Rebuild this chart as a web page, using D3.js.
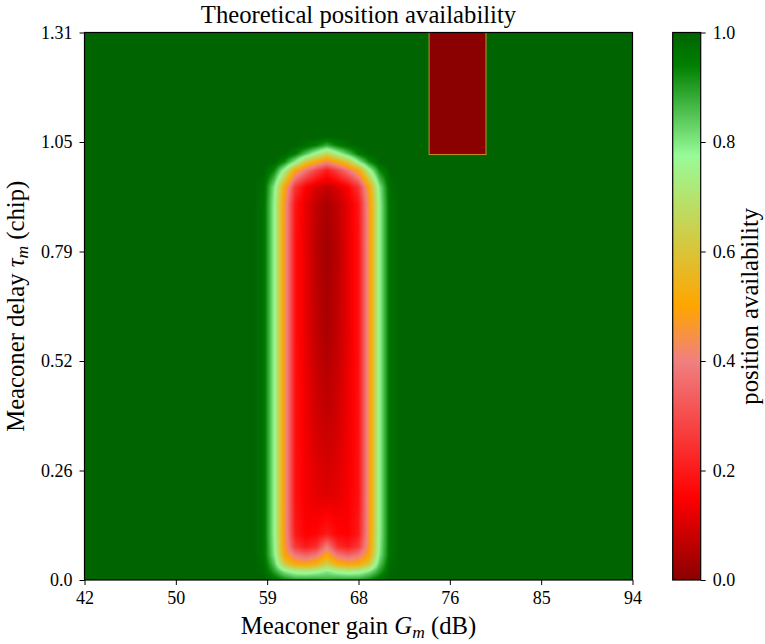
<!DOCTYPE html>
<html><head><meta charset="utf-8">
<script src="https://cdn.jsdelivr.net/npm/d3@7"></script>
<style>
body{margin:0;background:#fff}
svg{display:block}
text{font-family:"Liberation Serif","Times New Roman",serif;fill:#000}
</style>
</head><body>
<svg id="chart" width="765" height="644"></svg>
<script>
// ---------------- data ----------------
const gainRange = [42, 94];          // dB
const delayRange = [0, 1.31];        // chip
const backgroundValue = 1;

// grid of the low-availability region
const gains = [58, 59, 60, 61, 62, 63, 64, 65, 66, 67, 68, 69, 70, 71, 72];
const delays = [0, 0.02, 0.04, 0.06, 0.08, 0.11, 0.2, 0.4, 0.6, 0.8, 0.9, 0.94, 0.98, 1.0, 1.02, 1.04, 1.06];
const availability = [
  [1, 1,    0.97, 0.93, 0.9,  0.9,  0.9,  0.88, 0.9,  0.9,  0.9,  0.93, 0.97, 1,    1],
  [1, 0.99, 0.9,  0.8,  0.75, 0.74, 0.76, 0.8,  0.76, 0.74, 0.75, 0.8,  0.9,  0.99, 1],
  [1, 0.98, 0.84, 0.6,  0.5,  0.48, 0.52, 0.62, 0.52, 0.48, 0.5,  0.6,  0.84, 0.98, 1],
  [1, 0.97, 0.8,  0.5,  0.38, 0.34, 0.38, 0.5,  0.38, 0.34, 0.38, 0.5,  0.8,  0.97, 1],
  [1, 0.97, 0.79, 0.47, 0.26, 0.2,  0.24, 0.4,  0.24, 0.2,  0.26, 0.47, 0.79, 0.97, 1],
  [1, 0.97, 0.78, 0.46, 0.2,  0.15, 0.16, 0.2,  0.16, 0.15, 0.2,  0.46, 0.78, 0.97, 1],
  [1, 0.97, 0.78, 0.46, 0.18, 0.14, 0.12, 0.11, 0.12, 0.14, 0.18, 0.46, 0.78, 0.97, 1],
  [1, 0.97, 0.78, 0.46, 0.18, 0.13, 0.09, 0.07, 0.09, 0.13, 0.18, 0.46, 0.78, 0.97, 1],
  [1, 0.97, 0.78, 0.46, 0.18, 0.12, 0.07, 0.04, 0.07, 0.12, 0.18, 0.46, 0.78, 0.97, 1],
  [1, 0.97, 0.78, 0.46, 0.18, 0.12, 0.06, 0.03, 0.06, 0.12, 0.18, 0.46, 0.78, 0.97, 1],
  [1, 0.97, 0.78, 0.46, 0.19, 0.12, 0.07, 0.04, 0.07, 0.12, 0.19, 0.46, 0.78, 0.97, 1],
  [1, 0.98, 0.8,  0.5,  0.25, 0.15, 0.1,  0.08, 0.1,  0.15, 0.25, 0.5,  0.8,  0.98, 1],
  [1, 1,    0.93, 0.75, 0.5,  0.38, 0.28, 0.2,  0.28, 0.38, 0.5,  0.75, 0.93, 1,    1],
  [1, 1,    1,    0.92, 0.78, 0.6,  0.5,  0.42, 0.5,  0.6,  0.78, 0.92, 1,    1,    1],
  [1, 1,    1,    1,    0.95, 0.85, 0.75, 0.65, 0.75, 0.85, 0.95, 1,    1,    1,    1],
  [1, 1,    1,    1,    1,    0.98, 0.94, 0.88, 0.94, 0.98, 1,    1,    1,    1,    1],
  [1, 1,    1,    1,    1,    1,    1,    1,    1,    1,    1,    1,    1,    1,    1]
];

// fully unavailable block (top right)
const blockGain = [74.7, 80.1];
const blockDelay = [1.018, 1.31];
const blockValue = 0;

// ticks
const xTickLabels = ["42", "50", "59", "68", "76", "85", "94"];
const yTickLabels = ["0.0", "0.26", "0.52", "0.79", "1.05", "1.31"];
const cbTickValues = [0, 0.2, 0.4, 0.6, 0.8, 1.0];

// colour map
const cmapStops = [0, 0.15, 0.4, 0.5, 0.775, 0.94, 1];
const cmapColors = ["#8b0000", "#ff0000", "#f08080", "#ffa500", "#98fb98", "#008000", "#006400"];

// ---------------- layout ----------------
const plot = {left: 84.5, top: 32.5, width: 548, height: 547.5};
const cbar = {left: 672.7, width: 28};
const svg = d3.select("#chart");

const x = d3.scaleLinear().domain(gainRange).range([plot.left, plot.left + plot.width]);
const y = d3.scaleLinear().domain(delayRange).range([plot.top + plot.height, plot.top]);
const color = d3.scaleLinear().domain(cmapStops).range(cmapColors).interpolate(d3.interpolateRgb).clamp(true);

function locate(arr, v) {
  if (v <= arr[0]) return [0, 0, 0];
  if (v >= arr[arr.length - 1]) return [arr.length - 1, arr.length - 1, 0];
  const i = d3.bisectRight(arr, v) - 1;
  return [i, i + 1, (v - arr[i]) / (arr[i + 1] - arr[i])];
}
function valueAt(g, d) {
  if (g < gains[0] || g > gains[gains.length - 1]) return backgroundValue;
  if (d > delays[delays.length - 1]) return backgroundValue;
  const [c0, c1, tc] = locate(gains, g);
  const [r0, r1, tr] = locate(delays, d);
  const a = availability[r0][c0] * (1 - tc) + availability[r0][c1] * tc;
  const b = availability[r1][c0] * (1 - tc) + availability[r1][c1] * tc;
  return a * (1 - tr) + b * tr;
}

// heatmap raster, each pixel mapped through the scales
const W = Math.round(plot.width), H = Math.round(plot.height);
const canvas = document.createElement("canvas");
canvas.width = W; canvas.height = H;
const ctx = canvas.getContext("2d");
const img = ctx.createImageData(W, H);
for (let j = 0; j < H; j++) {
  const d = y.invert(plot.top + (j + 0.5) * plot.height / H);
  for (let i = 0; i < W; i++) {
    const g = x.invert(plot.left + (i + 0.5) * plot.width / W);
    const c = d3.rgb(color(valueAt(g, d)));
    const k = (j * W + i) * 4;
    img.data[k] = c.r; img.data[k + 1] = c.g; img.data[k + 2] = c.b; img.data[k + 3] = 255;
  }
}
ctx.putImageData(img, 0, 0);
svg.append("image")
  .attr("x", plot.left).attr("y", plot.top)
  .attr("width", plot.width).attr("height", plot.height)
  .attr("preserveAspectRatio", "none")
  .attr("href", canvas.toDataURL());

// block
svg.append("rect")
  .attr("x", x(blockGain[0])).attr("y", y(blockDelay[1]))
  .attr("width", x(blockGain[1]) - x(blockGain[0]))
  .attr("height", y(blockDelay[0]) - y(blockDelay[1]))
  .attr("fill", color(blockValue))
  .attr("stroke", "#c8902a").attr("stroke-width", 1);

// frame
svg.append("rect")
  .attr("x", plot.left).attr("y", plot.top)
  .attr("width", plot.width).attr("height", plot.height)
  .attr("fill", "none").attr("stroke", "#000").attr("stroke-width", 1.2);

// axes
const xTickPos = xTickLabels.map((_, i) => gainRange[0] + i * (gainRange[1] - gainRange[0]) / (xTickLabels.length - 1));
const yTickPos = yTickLabels.map((_, i) => delayRange[0] + i * (delayRange[1] - delayRange[0]) / (yTickLabels.length - 1));

const xAxis = svg.append("g")
  .attr("transform", `translate(0,${plot.top + plot.height})`)
  .call(d3.axisBottom(x).tickValues(xTickPos).tickFormat((d, i) => xTickLabels[i]).tickSize(5).tickPadding(6));
const yAxis = svg.append("g")
  .attr("transform", `translate(${plot.left},0)`)
  .call(d3.axisLeft(y).tickValues(yTickPos).tickFormat((d, i) => yTickLabels[i]).tickSize(5).tickPadding(7));
[xAxis, yAxis].forEach(a => {
  a.select(".domain").remove();
  a.selectAll(".tick line").attr("stroke", "#000").attr("stroke-width", 1);
  a.selectAll(".tick text").attr("font-family", "Liberation Serif").attr("font-size", 18).attr("fill", "#000");
});

// colorbar
const cb = d3.scaleLinear().domain([0, 1]).range([plot.top + plot.height, plot.top]);
const defs = svg.append("defs");
const grad = defs.append("linearGradient").attr("id", "cbgrad")
  .attr("x1", 0).attr("y1", 1).attr("x2", 0).attr("y2", 0);
grad.selectAll("stop").data(cmapStops).join("stop")
  .attr("offset", d => d).attr("stop-color", (d, i) => cmapColors[i]);
svg.append("rect")
  .attr("x", cbar.left).attr("y", cb(1))
  .attr("width", cbar.width).attr("height", cb(0) - cb(1))
  .attr("fill", "url(#cbgrad)").attr("stroke", "#000").attr("stroke-width", 1.2);
const cbAxis = svg.append("g")
  .attr("transform", `translate(${cbar.left + cbar.width},0)`)
  .call(d3.axisRight(cb).tickValues(cbTickValues).tickFormat(d3.format(".1f")).tickSize(5).tickPadding(7));
cbAxis.select(".domain").remove();
cbAxis.selectAll(".tick line").attr("stroke", "#000").attr("stroke-width", 1);
cbAxis.selectAll(".tick text").attr("font-family", "Liberation Serif").attr("font-size", 18).attr("fill", "#000");

// titles and labels
const cx = plot.left + plot.width / 2;
svg.append("text").attr("x", cx).attr("y", 23)
  .attr("text-anchor", "middle").attr("font-size", 24.7)
  .text("Theoretical position availability");

const xl = svg.append("text").attr("x", cx).attr("y", 634)
  .attr("text-anchor", "middle").attr("font-size", 24.7);
xl.append("tspan").text("Meaconer gain ");
xl.append("tspan").attr("font-style", "italic").text("G");
xl.append("tspan").attr("font-style", "italic").attr("font-size", 17.5).attr("dy", 4).text("m");
xl.append("tspan").attr("dy", -4).text(" (dB)");

const yl = svg.append("text")
  .attr("transform", `translate(24,${plot.top + plot.height / 2}) rotate(-90)`)
  .attr("text-anchor", "middle").attr("font-size", 24.7);
yl.append("tspan").text("Meaconer delay ");
yl.append("tspan").attr("font-style", "italic").text("τ");
yl.append("tspan").attr("font-style", "italic").attr("font-size", 17.5).attr("dy", 4).text("m");
yl.append("tspan").attr("dy", -4).text(" (chip)");

svg.append("text")
  .attr("transform", `translate(758,${plot.top + plot.height / 2}) rotate(-90)`)
  .attr("text-anchor", "middle").attr("font-size", 24.7)
  .text("position availability");
</script>
</body></html>
